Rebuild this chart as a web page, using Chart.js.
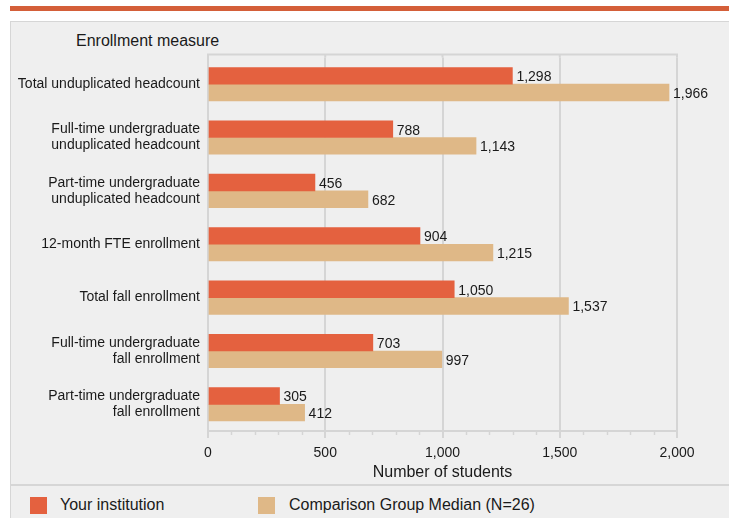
<!DOCTYPE html>
<html>
<head>
<meta charset="utf-8">
<script src="https://cdn.jsdelivr.net/npm/chart.js@4.4.1/dist/chart.umd.min.js"></script>
<style>
  html, body { margin: 0; padding: 0; background: #ffffff; width: 729px; height: 518px; overflow: hidden; font-family: "Liberation Sans", Arial, sans-serif; }
  #stripe { position: absolute; left: 10px; top: 6px; width: 719px; height: 5px; background: #d45f39; }
  #panel { position: absolute; left: 10px; top: 21px; width: 719px; height: 497px; background: #efefef; border-left: 1px solid #d6d6d6; border-top: 1px solid #d6d6d6; box-sizing: border-box; }
  #sep { position: absolute; left: 10px; top: 484px; width: 719px; height: 2px; background: #d6d6d6; }
  #ytitle { position: absolute; left: 76px; top: 32px; font-size: 16px; color: #1a1a1a; line-height: 18px; white-space: nowrap; }
  #chartWrap { position: absolute; left: 10px; top: 22px; width: 719px; height: 462px; }
  .lg { position: absolute; font-size: 16px; color: #1a1a1a; line-height: 18px; white-space: nowrap; }
  .sw { position: absolute; width: 17px; height: 17px; }
</style>
</head>
<body>
<div id="stripe"></div>
<div id="panel"></div>
<div id="sep"></div>
<div id="ytitle">Enrollment measure</div>
<div id="chartWrap"><canvas id="c" width="719" height="462"></canvas></div>
<div class="sw" id="sw1" style="left:30px; top:497px;"></div>
<div class="lg" id="lg1" style="left:60px; top:496px;"></div>
<div class="sw" id="sw2" style="left:258px; top:497px;"></div>
<div class="lg" id="lg2" style="left:289px; top:496px;"></div>
<script>
// ---- data ----
const categories = [
  "Total unduplicated headcount",
  ["Full-time undergraduate", "unduplicated headcount"],
  ["Part-time undergraduate", "unduplicated headcount"],
  "12-month FTE enrollment",
  "Total fall enrollment",
  ["Full-time undergraduate", "fall enrollment"],
  ["Part-time undergraduate", "fall enrollment"]
];
const yourInstitution = [1298, 788, 456, 904, 1050, 703, 305];
const comparisonMedian = [1966, 1143, 682, 1215, 1537, 997, 412];
const seriesNames = ["Your institution", "Comparison Group Median (N=26)"];
const xTickValues = [0, 500, 1000, 1500, 2000];
const xAxisTitle = "Number of students";

const colorYour = "#e4613f";
const colorComp = "#dfb887";
const gridColor = "#d5d5d5";
const textColor = "#1a1a1a";

document.getElementById("sw1").style.background = colorYour;
document.getElementById("sw2").style.background = colorComp;
document.getElementById("lg1").textContent = seriesNames[0];
document.getElementById("lg2").textContent = seriesNames[1];

const fmt = v => Number(v).toLocaleString("en-US");

const framePlugin = {
  id: "frame",
  beforeDatasetsDraw(chart) {
    const { ctx, chartArea } = chart;
    const xs = chart.scales.x;
    ctx.save();
    ctx.strokeStyle = gridColor;
    ctx.lineWidth = 2;
    const topY = chartArea.top - 3;
    ctx.beginPath();
    ctx.moveTo(chartArea.left - 1, topY);
    ctx.lineTo(chartArea.right + 1, topY);
    ctx.stroke();
    xTickValues.forEach(v => {
      const px = xs.getPixelForValue(v);
      ctx.beginPath();
      ctx.moveTo(px, topY);
      ctx.lineTo(px, chartArea.top);
      ctx.stroke();
    });
    ctx.lineWidth = 1.5;
    for (let v = 100; v < 2000; v += 100) {
      if (v % 500 === 0) continue;
      const px = Math.round(xs.getPixelForValue(v)) + 0.5;
      ctx.beginPath();
      ctx.moveTo(px, chartArea.bottom);
      ctx.lineTo(px, chartArea.bottom + 4);
      ctx.stroke();
    }
    ctx.restore();
  },
  afterDatasetsDraw(chart) {
    const { ctx } = chart;
    ctx.save();
    ctx.font = '14px "Liberation Sans", Arial, sans-serif';
    ctx.fillStyle = textColor;
    ctx.textAlign = "left";
    ctx.textBaseline = "middle";
    chart.data.datasets.forEach((ds, i) => {
      const meta = chart.getDatasetMeta(i);
      meta.data.forEach((el, j) => {
        ctx.fillText(fmt(ds.data[j]), el.x + 4, el.y + 1.5);
      });
    });
    ctx.restore();
  }
};

new Chart(document.getElementById("c"), {
  type: "bar",
  data: {
    labels: categories,
    datasets: [
      { label: seriesNames[0], data: yourInstitution, backgroundColor: colorYour, barThickness: 16.7 },
      { label: seriesNames[1], data: comparisonMedian, backgroundColor: colorComp, barThickness: 16.7 }
    ]
  },
  options: {
    indexAxis: "y",
    responsive: false,
    animation: false,
    devicePixelRatio: 1,
    layout: { padding: { top: 35.5, right: 52, left: 0, bottom: 0 } },
    plugins: { legend: { display: false }, tooltip: { enabled: false }, title: { display: false } },
    scales: {
      x: {
        type: "linear",
        min: 0,
        max: 2000,
        afterBuildTicks: s => { s.ticks = xTickValues.map(v => ({ value: v })); },
        afterFit: s => { s.height = 53; },
        grid: { color: gridColor, lineWidth: 2, tickLength: 7, tickColor: gridColor, drawTicks: true },
        border: { display: true, color: gridColor, width: 2 },
        ticks: {
          color: textColor,
          font: { family: '"Liberation Sans", Arial, sans-serif', size: 14 },
          padding: 7,
          maxRotation: 0,
          callback: v => fmt(v)
        },
        title: {
          display: true,
          text: xAxisTitle,
          color: textColor,
          font: { family: '"Liberation Sans", Arial, sans-serif', size: 16 },
          padding: { top: 0, bottom: 2 }
        }
      },
      y: {
        type: "category",
        afterFit: s => { s.width = 198; },
        grid: { display: false, drawTicks: false },
        border: { display: true, color: gridColor, width: 2 },
        ticks: {
          color: textColor,
          font: { family: '"Liberation Sans", Arial, sans-serif', size: 14, lineHeight: 1.143 },
          padding: 8
        }
      }
    }
  },
  plugins: [framePlugin]
});
</script>
</body>
</html>
